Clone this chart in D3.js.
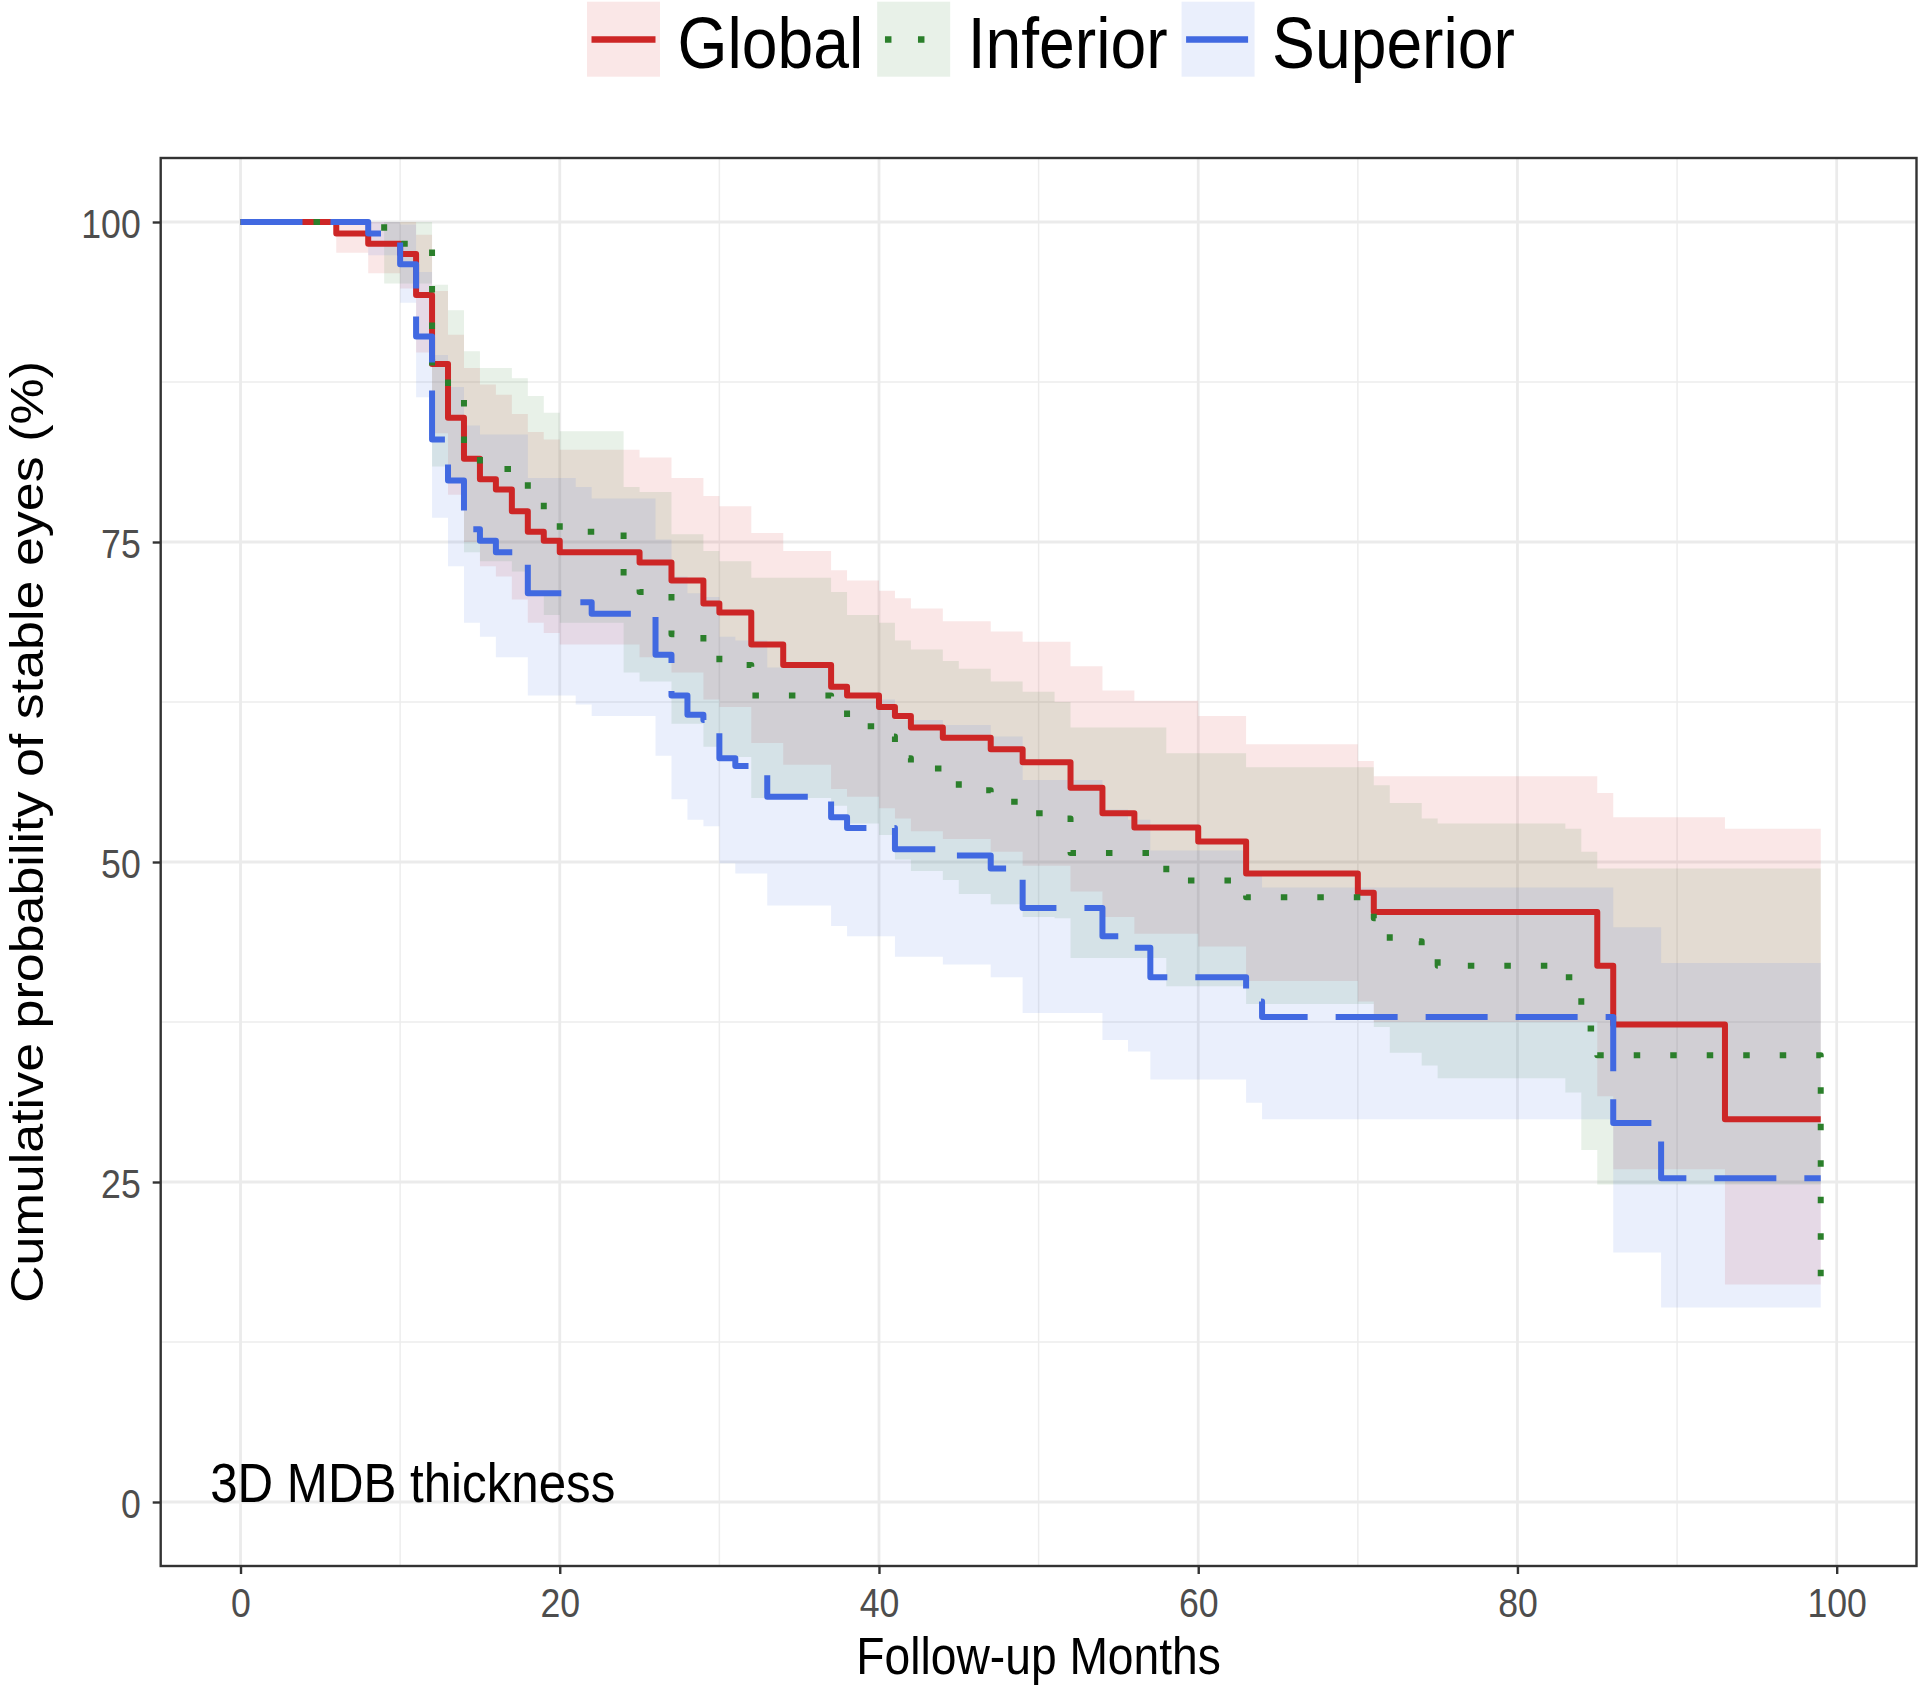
<!DOCTYPE html>
<html><head><meta charset="utf-8">
<script src="https://cdn.jsdelivr.net/npm/d3@7"></script>
<style>
html,body{margin:0;padding:0;background:#fff;}
svg{display:block;}
text{font-family:"Liberation Sans",Arial,Helvetica,sans-serif;}
</style></head><body>
<svg id="chart" width="1920" height="1687"></svg>
<script>
// ---------------- DATA ----------------
const seriesNames = ["Global", "Inferior", "Superior"];

const globalTime  = [0,6,8,10,11,12,13,14,15,16,17,18,19,20,25,27,29,30,32,34,37,38,40,41,42,44,47,49,52,54,56,60,63,70,71,85,86,93,99];
const globalSurv  = [100,99.1,98.3,97.5,94.3,88.9,84.7,81.5,79.9,79.1,77.4,75.8,75.1,74.2,73.4,72.0,70.2,69.5,67.0,65.4,63.7,63.0,62.1,61.4,60.5,59.7,58.8,57.8,55.8,53.8,52.7,51.6,49.1,47.6,46.1,41.9,37.3,29.9,29.9];
const globalUpper = [100,100,100,100,99.0,94.6,91.2,88.6,87.3,86.5,85.0,83.6,83.0,82.2,81.6,80.0,78.6,77.8,75.7,74.3,72.8,72.0,71.2,70.6,69.8,68.8,68.0,67.2,65.3,63.4,62.6,61.4,59.2,57.9,56.7,55.4,53.5,52.6,52.6];
const globalLower = [100,97.6,96.0,94.8,89.8,83.5,78.7,75.0,73.1,72.3,70.5,68.7,67.9,67.0,66.0,64.8,62.7,62.1,59.3,57.6,55.7,55.1,54.2,53.4,52.4,51.8,50.8,49.7,47.7,45.7,44.4,43.4,40.7,39.1,37.5,31.7,26.0,17.0,17.0];

const inferiorTime  = [0,9,12,13,14,15,17,18,19,20,24,25,27,29,30,32,37,38,40,41,42,44,45,47,49,51,52,58,63,71,72,74,75,83,84,85,99];
const inferiorSurv  = [100,98.3,87.7,86.2,81.7,80.7,79.9,78.3,76.8,75.8,71.7,71.1,67.8,66.2,65.4,63.0,62.2,60.6,59.8,58.1,57.3,56.5,55.6,54.7,53.8,53.4,50.7,48.55,47.25,45.6,43.8,42.65,41.9,41.0,37.0,34.9,17.4];
const inferiorUpper = [100,100,95.1,93.1,89.9,88.6,87.8,86.4,85.1,83.65,79.3,78.9,75.6,74.3,73.5,72.2,71.1,69.3,68.7,67.3,66.6,65.7,65.1,64.1,63.3,62.5,60.5,58.5,57.4,56.0,54.6,53.4,53.0,52.6,50.8,49.5,49.5];
const inferiorLower = [100,95.2,80.9,79.8,74.2,73.5,72.7,71.0,69.3,68.7,64.8,64.1,60.8,59.0,58.2,55.0,54.4,53.0,52.1,50.2,49.3,48.6,47.5,46.7,45.7,45.6,42.5,40.3,38.9,37.1,35.1,34.1,33.1,32.0,27.5,24.8,24.8];

const superiorTime  = [0,8,10,11,12,13,14,15,16,18,21,22,26,27,28,29,30,31,33,37,38,41,44,47,49,54,55.6,57,63,64,86,89,99];
const superiorSurv  = [100,99.1,96.7,91.05,83.0,79.8,76.0,75.1,74.2,71.0,70.3,69.4,66.2,63.0,61.5,61.1,58.1,57.5,55.1,53.5,52.65,51.0,50.5,49.5,46.4,44.2,43.3,41.0,39.1,37.9,29.6,25.3,25.3];
const superiorUpper = [100,100,99.8,96.1,89.6,87.1,84.1,83.4,83.4,80.0,79.3,78.4,75.2,72.3,71.0,70.7,67.6,67.3,65.2,63.6,62.7,61.1,60.7,59.8,56.4,54.1,53.3,50.9,49.0,48.0,44.9,42.1,42.1];
const superiorLower = [100,97.4,93.7,86.3,76.9,73.1,68.7,67.6,66.0,63.0,62.3,61.4,58.3,54.9,53.3,52.8,49.9,49.1,46.6,45.0,44.2,42.6,42.0,41.0,38.2,36.1,35.2,33.0,31.2,29.9,19.5,15.2,15.2];

const xTicks = [0,20,40,60,80,100];
const xMinor = [10,30,50,70,90];
const yTicks = [0,25,50,75,100];
const yMinor = [12.5,37.5,62.5,87.5];
const xTitle = "Follow-up Months";
const yTitle = "Cumulative probability of stable eyes (%)";
const annotationText = "3D MDB thickness";
const annotationPos = [-1.9, 0];

// ---------------- STYLE ----------------
const colors = ["#CD2626", "#2B7F2B", "#4169E1"];
const dashes = [null, "6.5 30", "62 28"];
const ribbonAlpha = 0.11;
const lineWidth = 6;
const textScaleX = 0.88;

const W = 1920, H = 1687;
const panel = {left:160.7, right:1916.5, top:158, bottom:1566};

const series = [
  {name:seriesNames[0], t:globalTime, s:globalSurv, u:globalUpper, l:globalLower},
  {name:seriesNames[1], t:inferiorTime, s:inferiorSurv, u:inferiorUpper, l:inferiorLower},
  {name:seriesNames[2], t:superiorTime, s:superiorSurv, u:superiorUpper, l:superiorLower}
].map((d,i)=>Object.assign(d,{color:colors[i], dash:dashes[i],
   rows:d.t.map((tt,j)=>({t:tt, s:d.s[j], u:d.u[j], l:d.l[j]}))}));

const x = d3.scaleLinear().domain([-5,105]).range([panel.left, panel.right]);
const y = d3.scaleLinear().domain([-5,105]).range([panel.bottom, panel.top]);

const svg = d3.select("#chart");
svg.append("rect").attr("width",W).attr("height",H).attr("fill","#fff");

svg.append("defs").append("clipPath").attr("id","pclip")
  .append("rect").attr("x",panel.left).attr("y",panel.top)
  .attr("width",panel.right-panel.left).attr("height",panel.bottom-panel.top);

// grid
const grid = svg.append("g");
xMinor.forEach(v=>grid.append("line").attr("x1",x(v)).attr("x2",x(v)).attr("y1",panel.top).attr("y2",panel.bottom)
  .attr("stroke","#EDEDED").attr("stroke-width",1.5));
yMinor.forEach(v=>grid.append("line").attr("y1",y(v)).attr("y2",y(v)).attr("x1",panel.left).attr("x2",panel.right)
  .attr("stroke","#EDEDED").attr("stroke-width",1.5));
xTicks.forEach(v=>grid.append("line").attr("x1",x(v)).attr("x2",x(v)).attr("y1",panel.top).attr("y2",panel.bottom)
  .attr("stroke","#EBEBEB").attr("stroke-width",2.8));
yTicks.forEach(v=>grid.append("line").attr("y1",y(v)).attr("y2",y(v)).attr("x1",panel.left).attr("x2",panel.right)
  .attr("stroke","#EBEBEB").attr("stroke-width",2.8));

// ribbons
const plot = svg.append("g").attr("clip-path","url(#pclip)");
const area = d3.area().x(d=>x(d.t)).y0(d=>y(d.l)).y1(d=>y(d.u)).curve(d3.curveStepAfter);
series.forEach(s=>{
  plot.append("path").attr("d",area(s.rows)).attr("fill",s.color).attr("fill-opacity",ribbonAlpha).attr("stroke","none");
});
// lines
const line = d3.line().x(d=>x(d.t)).y(d=>y(d.s)).curve(d3.curveStepAfter);
series.forEach(s=>{
  const p = plot.append("path").attr("d",line(s.rows)).attr("fill","none")
    .attr("stroke",s.color).attr("stroke-width",lineWidth)
    .attr("stroke-linejoin","round").attr("stroke-linecap","butt");
  if (s.dash) p.attr("stroke-dasharray",s.dash);
});

// annotation
svg.append("text").attr("transform",`translate(${x(annotationPos[0])},${y(annotationPos[1])}) scale(${textScaleX},1)`)
  .attr("font-size",56).attr("fill","#000").text(annotationText);

// panel border
svg.append("rect").attr("x",panel.left).attr("y",panel.top)
  .attr("width",panel.right-panel.left).attr("height",panel.bottom-panel.top)
  .attr("fill","none").attr("stroke","#333333").attr("stroke-width",2.4);

// axes
const yAxisG = svg.append("g").attr("transform",`translate(${panel.left},0)`)
  .call(d3.axisLeft(y).tickValues(yTicks).tickSize(8).tickPadding(12).tickFormat(d3.format("d")));
yAxisG.select(".domain").remove();
yAxisG.selectAll(".tick line").attr("stroke","#333333").attr("stroke-width",2.4);
yAxisG.selectAll(".tick text").attr("x",0).attr("dy","0.38em")
  .attr("transform",`translate(-20,0) scale(${textScaleX},1)`)
  .attr("font-size",40.5).attr("fill","#4D4D4D").attr("font-family","Liberation Sans, Arial, sans-serif");

const xAxisG = svg.append("g").attr("transform",`translate(0,${panel.bottom})`)
  .call(d3.axisBottom(x).tickValues(xTicks).tickSize(8).tickPadding(14.5).tickFormat(d3.format("d")));
xAxisG.select(".domain").remove();
xAxisG.selectAll(".tick line").attr("stroke","#333333").attr("stroke-width",2.4);
xAxisG.selectAll(".tick text").attr("transform",`scale(${textScaleX},1)`)
  .attr("font-size",40.5).attr("fill","#4D4D4D").attr("font-family","Liberation Sans, Arial, sans-serif");

// axis titles
svg.append("text").attr("transform",`translate(${(panel.left+panel.right)/2},1674) scale(${textScaleX},1)`)
  .attr("text-anchor","middle").attr("font-size",52.5).attr("fill","#000").text(xTitle);
svg.append("text").attr("transform",`translate(43,832) scale(${textScaleX},1) rotate(-90)`)
  .attr("text-anchor","middle").attr("font-size",52).attr("fill","#000").text(yTitle);

// legend
const leg = svg.append("g");
let lx = 587;
const keyW = 73, keyH = 75, keyY = 1.7, keyMid = 39.5;
series.forEach(s=>{
  leg.append("rect").attr("x",lx).attr("y",keyY).attr("width",keyW).attr("height",keyH)
    .attr("fill",s.color).attr("fill-opacity",ribbonAlpha);
  const dotted = s.dash && s.dash.startsWith("6.5");
  const inset = dotted ? 7.8 : 4.5;
  const kl = leg.append("line").attr("x1",lx+inset).attr("x2",lx+keyW-4.5).attr("y1",keyMid).attr("y2",keyMid)
    .attr("stroke",s.color).attr("stroke-width",lineWidth+0.5);
  if (s.dash) kl.attr("stroke-dasharray", dotted ? "6.5 26.5" : s.dash);
  const tx = lx+keyW+17.5;
  const t = leg.append("text").attr("transform",`translate(${tx},67.5) scale(${textScaleX},1)`)
    .attr("font-size",73).attr("fill","#000").text(s.name);
  const w = t.node().getComputedTextLength()*textScaleX;
  lx = tx + w + 14;
});
</script>
</body></html>
